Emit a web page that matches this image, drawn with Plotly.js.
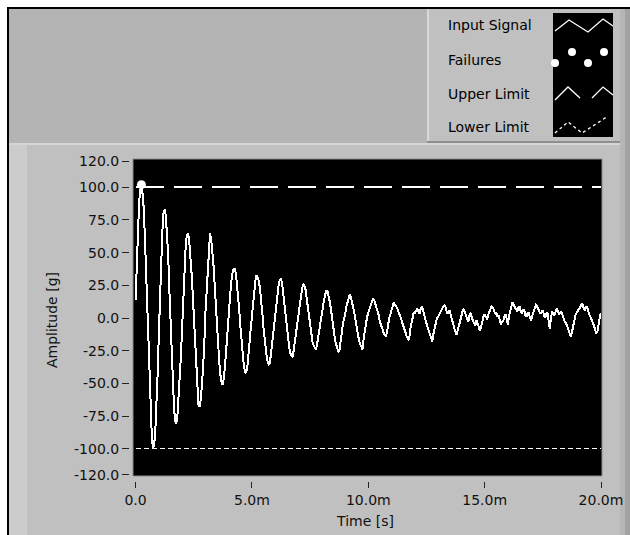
<!DOCTYPE html>
<html>
<head>
<meta charset="utf-8">
<script src="https://cdn.plot.ly/plotly-3.0.1.min.js"></script>
<style>html,body{margin:0;padding:0;background:#fff;}#chart{width:630px;height:535px;}
.scatterlayer .js-line{shape-rendering:crispEdges;}</style>
</head>
<body>
<div id="chart"></div>
<script>
// ---- data ----
const sampleInterval = 0.00005; // s
const inputSignal = [
 14, 40, 70, 88, 98, 102, 95, 84, 62, 35, 5, -25, -55, -78, -92, -100, -97, -85, -68, -42,
 -12, 18, 45, 66, 80, 83, 78, 66, 48, 22, -3, -28, -50, -68, -79, -81, -74, -62, -44, -28,
 -5, 16, 38, 54, 63, 65, 60, 50, 36, 20, 2, -20, -40, -56, -66, -68, -62, -52, -38, -22,
 4, 22, 40, 55, 65, 60, 52, 40, 25, 8, -8, -22, -35, -44, -50, -51, -45, -35, -22, -10,
 2, 14, 26, 33, 37, 38, 35, 27, 18, 7, -6, -17, -28, -36, -41, -42, -38, -30, -18, -8,
 3, 12, 22, 29, 33, 31, 28, 22, 14, 3, -8, -17, -26, -32, -35, -36, -30, -22, -12, -4,
 2, 12, 20, 26, 29, 30, 26, 18, 10, 0, -10, -16, -22, -27, -29, -30, -24, -17, -10, -3,
 4, 10, 17, 22, 26, 25, 22, 15, 8, 1, -6, -12, -18, -21, -23, -24, -20, -14, -8, -2,
 3, 9, 14, 18, 21, 20, 17, 12, 6, -2, -8, -14, -19, -23, -25, -26, -18, -12, -6, -1,
 2, 8, 12, 15, 18, 16, 13, 8, 4, -2, -7, -12, -17, -20, -23, -24, -16, -10, -4, 1,
 4, 7, 10, 13, 15, 14, 11, 9, 6, 2, -3, -5, -8, -11, -13, -14, -11, -5, 0, 3,
 6, 10, 12, 10, 9, 7, 5, 3, 0, -3, -6, -9, -12, -14, -16, -17, -9, -4, 2, 4,
 4, 6, 7, 5, 3, 7, 9, 6, 2, -1, -4, -7, -10, -14, -17, -18, -12, -7, -3, 0,
 1, 3, 5, 7, 8, 9, 10, 6, 3, 5, 6, 2, -2, -5, -8, -11, -13, -9, -5, -1,
 2, 5, 7, 4, 1, -2, -3, 2, 4, 0, -2, -4, -6, -2, -4, -7, -10, -6, -2, 1,
 3, 0, -1, 2, 5, 7, 9, 8, 6, 3, 4, 1, 2, -2, -5, -3, -2, 1, 3, -1,
 -5, 2, 6, 9, 12, 10, 8, 6, 5, 8, 9, 5, 3, 6, 6, 2, 1, 4, 4, 0,
 -2, 2, 5, 8, 10, 9, 7, 4, 3, 5, 6, 2, 0, 3, 4, -2, -8, 0, 5, 3,
 2, 5, 7, 5, 3, 4, 5, 2, -1, -3, -4, -7, -9, -12, -14, -11, -6, -2, 2, 4,
 5, 7, 8, 10, 11, 8, 6, 8, 9, 5, 3, 0, -2, -4, -6, -9, -12, -10, -3, 1,
 4
];
const failureTimes = [0.00025];
const failureValues = [102];
const limitTimes = [0, 0.02];
const upperLimit = [100, 100];
const lowerLimit = [-100, -100];
const yTickVals = [120, 100, 75, 50, 25, 0, -25, -50, -75, -100, -120];
const yTickText = ['120.0','100.0','75.0','50.0','25.0','0.0','-25.0','-50.0','-75.0','-100.0','-120.0'];
const xTickVals = [0, 0.005, 0.01, 0.015, 0.02];
const xTickText = ['0.0','5.0m','10.0m','15.0m','20.0m'];
const legendNames = ['Input Signal','Failures','Upper Limit','Lower Limit'];

// ---- geometry helpers (pixel -> paper) ----
const L = 130, R = 601, T = 159, B = 481, W = 630, H = 535;
const fx = p => (p - L) / (R - L);
const fy = p => (B - p) / (B - T);
function rect(x0, y0, x1, y1, fill, line) {
  return {type:'rect', xref:'paper', yref:'paper', layer:'below',
    x0:fx(x0), x1:fx(x1), y0:fy(y0), y1:fy(y1), fillcolor:fill,
    line: line || {width:0}};
}
function pathShape(pts, opts) {
  const d = pts.map((p,i)=>(i?'L':'M')+fx(p[0])+','+fy(p[1])).join(' ');
  return Object.assign({type:'path', xref:'paper', yref:'paper', layer:'above', path:d,
    line:{color:'#ffffff', width:1.3}}, opts||{});
}
function dot(cx, cy, r) {
  return {type:'circle', xref:'paper', yref:'paper', layer:'above',
    x0:fx(cx-r), x1:fx(cx+r), y0:fy(cy+r), y1:fy(cy-r), fillcolor:'#ffffff', line:{width:0}};
}

const shapes = [
  rect(7, 7, 630, 535, '#000000'),
  rect(9, 9, 630, 143, '#b4b4b4'),
  rect(9, 143, 630, 145, '#d6d6d6'),
  rect(9, 145, 630, 535, '#c0c0c0'),
  rect(9, 145, 27, 535, '#cccccc'),
  rect(620, 9, 625, 535, '#b6b6b6'),
  rect(625, 9, 630, 535, '#a2a2a2'),
  rect(427, 9, 620, 141, '#c0c0c0'),
  rect(427, 9, 429, 141, '#d8d8d8'),
  rect(427, 141, 620, 143, '#8e8e8e'),
  rect(553, 13, 613, 137, '#000000'),
  rect(133, 159, 602, 476, '#000000', {color:'#8a8a8a', width:1}),
  // legend swatch icons
  pathShape([[555,31],[569,20],[588,32],[603,19],[613,26]]),
  pathShape([[555,100],[568,87],[580,98]]),
  pathShape([[592,98],[603,87],[613,95]]),
  pathShape([[555,133],[568,122],[582,133],[596,124],[608,116]], {line:{color:'#ffffff', width:1.3, dash:'dot'}}),
  dot(555, 63, 4), dot(572, 52, 4), dot(588, 63, 4), dot(604, 52, 4)
];

const legendY = [25, 60, 94, 127];
const annotations = legendNames.map((n,i)=>({
  text:n, xref:'paper', yref:'paper', x:fx(446), y:fy(legendY[i]),
  xanchor:'left', yanchor:'middle', showarrow:false,
  font:{family:'DejaVu Sans', size:14, color:'#000000'}
}));

const traces = [
  {type:'scatter', mode:'lines', name:'Input Signal', x0:0, dx:sampleInterval, y:inputSignal,
   line:{color:'#ffffff', width:2}, hoverinfo:'skip'},
  {type:'scatter', mode:'markers', name:'Failures', x:failureTimes, y:failureValues,
   marker:{color:'#ffffff', size:9, symbol:'circle'}},
  {type:'scatter', mode:'lines', name:'Upper Limit', x:limitTimes, y:upperLimit,
   line:{color:'#ffffff', width:2, dash:'28px,10px'}},
  {type:'scatter', mode:'lines', name:'Lower Limit', x:limitTimes, y:lowerLimit,
   line:{color:'#ffffff', width:1.5, dash:'5px,3px'}}
];

const tickFont = {family:'DejaVu Sans', size:14, color:'#111111'};
const layout = {
  width:W, height:H,
  margin:{l:L, r:W-R, t:T, b:H-B, pad:0},
  paper_bgcolor:'#ffffff', plot_bgcolor:'rgba(0,0,0,0)',
  showlegend:false,
  font:{family:'DejaVu Sans', size:14, color:'#111111'},
  xaxis:{range:[-0.00024, 0.02], tickvals:xTickVals, ticktext:xTickText,
    ticks:'outside', ticklen:6, tickcolor:'#222', tickwidth:1,
    showgrid:false, zeroline:false, showline:false, tickfont:tickFont,
    automargin:false,
    title:{text:'Time [s]', font:{family:'DejaVu Sans', size:14, color:'#111111'}, standoff:9}},
  yaxis:{range:[-124.7, 121.65], tickvals:yTickVals, ticktext:yTickText,
    ticks:'outside', ticklen:7, tickcolor:'#222', tickwidth:1,
    showgrid:false, zeroline:false, showline:false, tickfont:tickFont,
    automargin:false,
    title:{text:'Amplitude [g]', font:{family:'DejaVu Sans', size:14, color:'#111111'}, standoff:13}},
  shapes:shapes,
  annotations:annotations
};

Plotly.newPlot('chart', traces, layout, {displayModeBar:false, staticPlot:true});
</script>
</body>
</html>
